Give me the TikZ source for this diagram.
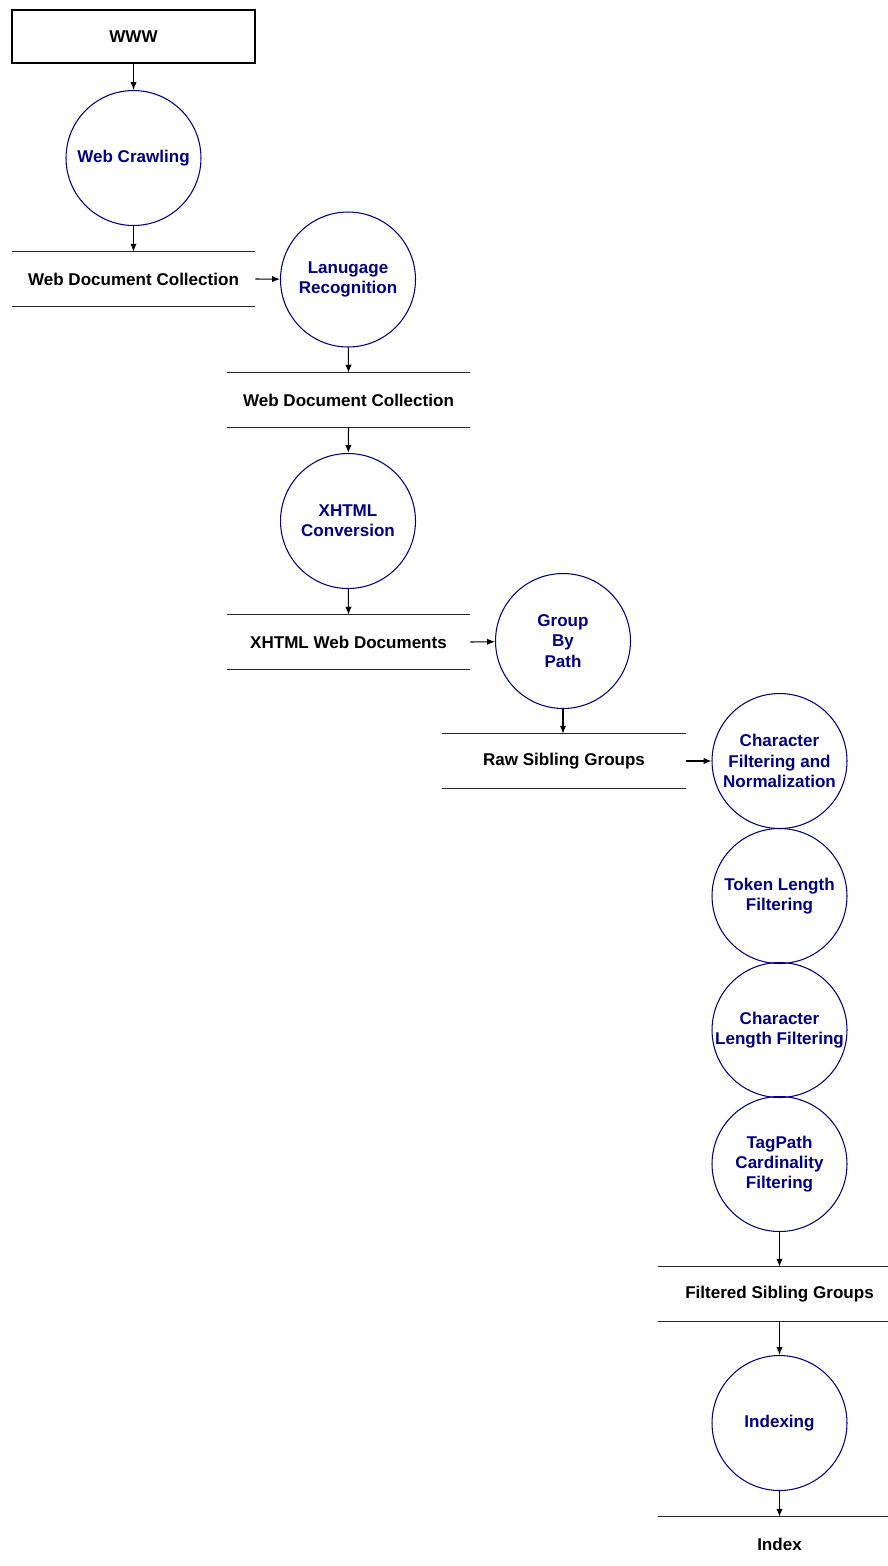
\documentclass[tikz,border=0pt]{standalone}
\usepackage{fontspec}
\setmainfont{Liberation Sans}
\usetikzlibrary{arrows.meta}
\definecolor{procblue}{HTML}{000080}
\begin{document}
\begin{tikzpicture}[x=0.02cm, y=-0.02cm,
  every node/.style={font=\fontsize{9.7}{11.6}\selectfont\bfseries, align=center, inner sep=0pt},
  process/.style={circle, draw=procblue, text=procblue, line width=0.6pt, minimum size=2.7cm},
  source/.style={rectangle, draw=black, line width=0.6pt, minimum width=4.86cm, minimum height=1.06cm},
  store/.style={rectangle, minimum width=4.86cm, minimum height=1.08cm},
  storeline/.style={draw=black!85, line width=0.6pt},
  flow/.style={draw=black, line width=0.6pt, -{Latex[length=4.5pt,width=3.6pt]}}
]
\useasboundingbox (0,0) rectangle (888,1566);
\clip (0,0) rectangle (888,1566);

% external source
\node[source] (www) at (133.5,36.5) {WWW};

% processes
\node[process] (c1) at (133.5,158) {Web Crawling};
\node[process] (c2) at (348,279.5) {Lanugage\\Recognition};
\node[process] (c3) at (348,521) {XHTML\\Conversion};
\node[process] (c4) at (563,641) {Group\\By\\Path};
\node[process] (c5) at (779.5,761) {Character\\Filtering and\\Normalization};
\node[process] (c6) at (779.5,896) {Token Length\\Filtering};
\node[process] (c7) at (779.5,1030) {Character\\Length Filtering};
\node[process] (c8) at (779.5,1164) {TagPath\\Cardinality\\Filtering};
\node[process] (c9) at (779.5,1423) {Indexing};

% data stores
\node[store] (s1) at (133.5,279) {Web Document Collection};
\node[store] (s2) at (348.5,400) {Web Document Collection};
\node[store] (s3) at (348.5,642) {XHTML Web Documents};
\node[store] (s4) at (564,761) {Raw Sibling Groups};
\node[store] (s5) at (779.5,1294) {Filtered Sibling Groups};
\node[store] (s6) at (779.5,1544) {Index};

\foreach \s in {s1,s2,s3,s4,s5,s6} {
  \draw[storeline] (\s.north west) -- (\s.north east);
  \draw[storeline] (\s.south west) -- (\s.south east);
}

% data flows
\draw[flow] (www) -- (c1);
\draw[flow] (c1) -- (s1.north);
\draw[flow] (s1.east) -- (c2);
\draw[flow] (c2) -- (s2.north);
\draw[flow] (s2.south) -- (c3);
\draw[flow] (c3) -- (s3.north);
\draw[flow] (s3.east) -- (c4);
\draw[flow] (c4) -- (s4.north -| c4);
\draw[flow] (s4.east) -- (c5);
\draw[flow] (c8) -- (s5.north);
\draw[flow] (s5.south) -- (c9);
\draw[flow] (c9) -- (s6.north);
\end{tikzpicture}
\end{document}
